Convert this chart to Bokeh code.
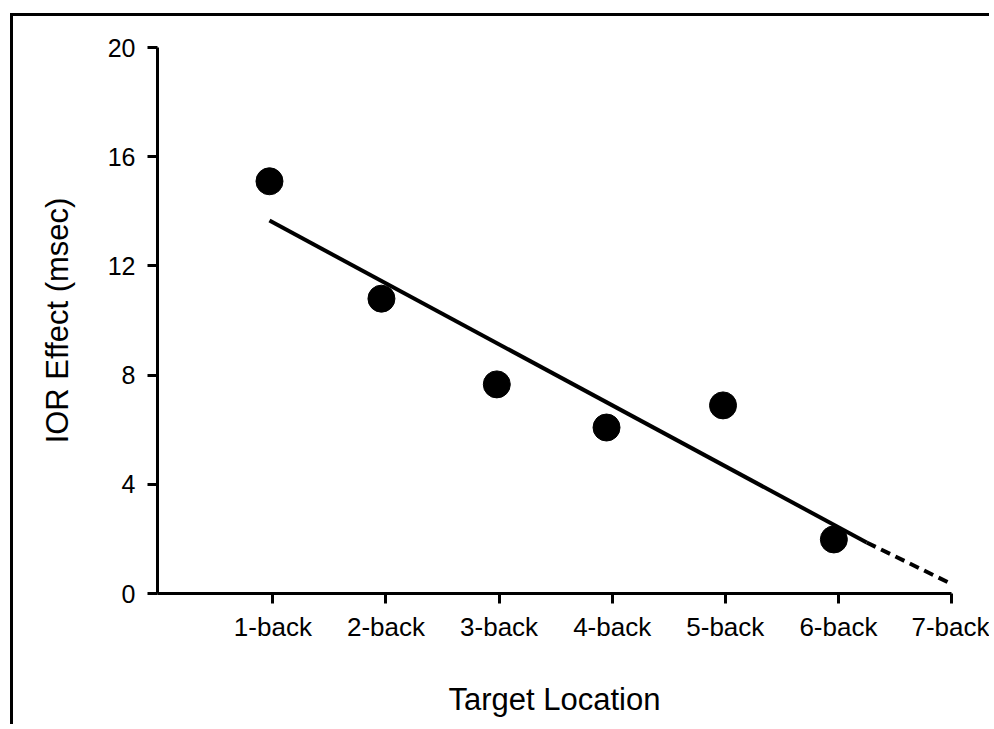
from bokeh.plotting import figure
from bokeh.models import FixedTicker, Range1d
from bokeh.embed import file_html
from bokeh.resources import INLINE

# ---- data ----
tick_positions = [1, 2, 3, 4, 5, 6, 7]
tick_labels = ["1-back", "2-back", "3-back", "4-back", "5-back", "6-back", "7-back"]
y_ticks = [0, 4, 8, 12, 16, 20]

point_x = [0.97, 1.96, 2.98, 3.95, 4.98, 5.96]
ior_effect = [15.1, 10.8, 7.66, 6.08, 6.89, 1.98]

fit_solid_x = [0.97, 6.25]
fit_solid_y = [13.66, 1.87]
fit_dash_x = [6.25, 6.99]
fit_dash_y = [1.87, 0.37]

FONT = "Liberation Sans"

p = figure(
    width=979, height=711,
    x_range=Range1d(-0.02, 7.0), y_range=Range1d(0, 20),
    output_backend="svg", toolbar_location=None,
    min_border_left=144, min_border_right=41,
    min_border_top=31, min_border_bottom=134,
)
p.styles = {"border-top": "3px solid black", "border-left": "3px solid black",
            "margin-left": "10px", "margin-top": "13px"}

p.outline_line_color = None
p.grid.visible = False
p.background_fill_color = "white"
p.border_fill_color = "white"

# axes
for ax in (p.xaxis[0], p.yaxis[0]):
    ax.axis_line_width = 3
    ax.axis_line_color = "black"
    ax.major_tick_line_width = 3
    ax.major_tick_line_color = "black"
    ax.major_tick_in = 0
    ax.major_tick_out = 10
    ax.minor_tick_line_color = None
    ax.major_label_text_font = FONT
    ax.major_label_text_color = "black"
    ax.axis_label_text_font = FONT
    ax.axis_label_text_font_size = "31px"
    ax.axis_label_text_font_style = "normal"
    ax.axis_label_text_color = "black"

p.xaxis.ticker = FixedTicker(ticks=tick_positions)
p.xaxis.major_label_overrides = {t: l for t, l in zip(tick_positions, tick_labels)}
p.xaxis.major_label_text_font_size = "26px"
p.xaxis.major_label_standoff = 8
p.xaxis.axis_label = "Target Location"
p.xaxis.axis_label_standoff = 37

p.yaxis.ticker = FixedTicker(ticks=y_ticks)
p.yaxis.major_label_text_font_size = "25px"
p.yaxis.major_label_standoff = 12
p.yaxis.axis_label = "IOR Effect (msec)"
p.yaxis.axis_label_standoff = 30

# regression line
p.line(fit_solid_x, fit_solid_y, line_width=4, line_color="black")
p.line(fit_dash_x, fit_dash_y, line_width=4, line_color="black", line_dash="10 6")

# points
p.scatter(point_x, ior_effect, size=27, marker="circle",
          fill_color="black", line_color="black")

open("out.html", "w").write(file_html(p, INLINE))
